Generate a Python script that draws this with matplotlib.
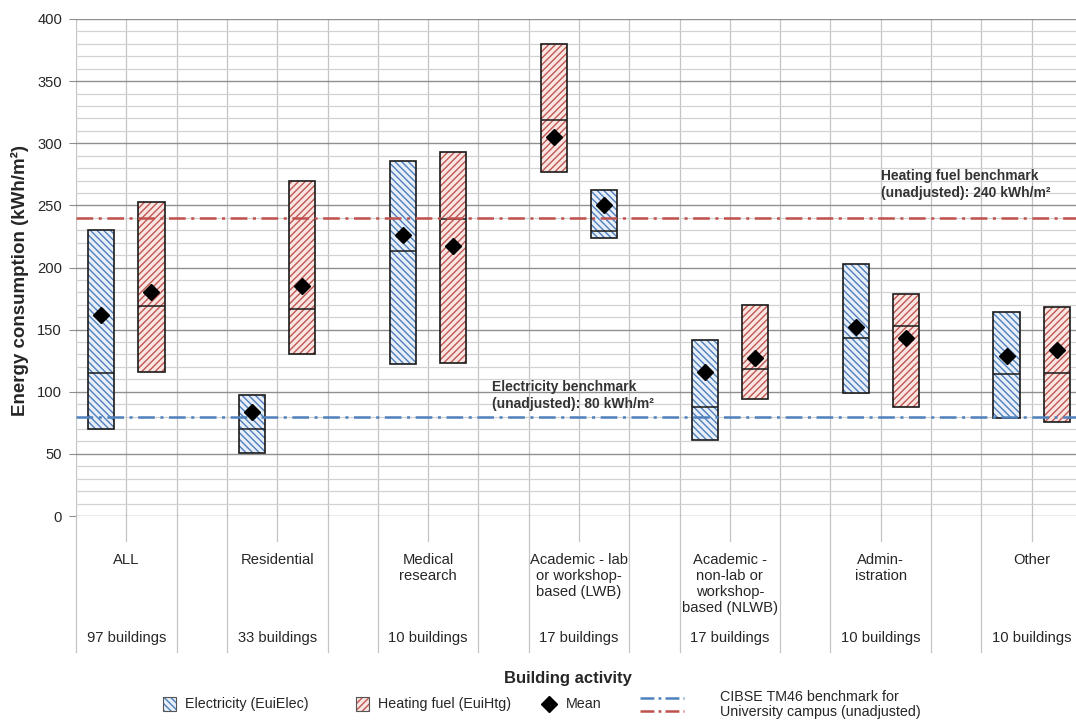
import numpy as np
import matplotlib
matplotlib.use("Agg")
import matplotlib.pyplot as plt
from matplotlib.patches import Rectangle
from matplotlib.lines import Line2D

plt.rcParams["font.family"] = ["Liberation Sans", "DejaVu Sans"]
plt.rcParams["lines.scale_dashes"] = False
plt.rcParams["hatch.linewidth"] = 1.0

# ---- data -------------------------------------------------------------
categories = ["ALL", "Residential", "Medical\nresearch",
              "Academic - lab\nor workshop-\nbased (LWB)",
              "Academic -\nnon-lab or\nworkshop-\nbased (NLWB)",
              "Admin-\nistration", "Other"]
building_counts = ["97 buildings", "33 buildings", "10 buildings", "17 buildings",
                   "17 buildings", "10 buildings", "10 buildings"]

# electricity EUI: low / high of the box, median, mean (kWh/m2)
elec_low = [70, 51, 122, 224, 61, 99, 79]
elec_high = [230, 97, 286, 262, 142, 203, 164]
elec_median = [115, 70, 213, 229, 88, 143, 114]
elec_mean = [162, 84, 226, 250, 116, 152, 129]

# heating fuel EUI
heat_low = [116, 130, 123, 277, 94, 88, 76]
heat_high = [253, 270, 293, 380, 170, 179, 168]
heat_median = [169, 167, 239, 319, 118, 153, 115]
heat_mean = [180, 185, 217, 305, 127, 143, 134]

# heating box drawn before the electricity box in this group
heating_first = [False, False, False, True, False, False, False]

elec_benchmark = 80
heat_benchmark = 240

# ---- styling ----------------------------------------------------------
ELEC_FILL, ELEC_HATCH = "#e8eff8", "#4f7fbb"
HEAT_FILL, HEAT_HATCH = "#f9e6e4", "#c0574f"
ELEC_PAT, HEAT_PAT = "\\" * 5, "/" * 5
BLUE_LINE, RED_LINE = "#4f81bd", "#c0504d"
TEXT = "#262626"
W, H = 1076, 721

fig = plt.figure(figsize=(W / 100, H / 100), dpi=100)
ax = fig.add_axes([76 / W, 1 - 516 / H, (W - 76) / W, 497 / H])

slot_w = 50.3
x_max = -0.5 + (W - 76) / slot_w

for s in ax.spines.values():
    s.set_visible(False)

# grid
ax.set_axisbelow(True)
ax.set_yticks(np.arange(0, 401, 50))
ax.set_yticks(np.arange(0, 401, 10), minor=True)
ax.set_xticks([])
ax.set_xticks(np.arange(-0.5, x_max, 1), minor=True)
ax.grid(axis="y", which="major", color="#8f8f8f", lw=1.0)
ax.grid(axis="y", which="minor", color="#d2d2d2", lw=0.9)
ax.grid(axis="x", which="minor", color="#c4c4c4", lw=0.9)
ax.tick_params(axis="y", which="major", length=5, color="#8f8f8f",
               labelsize=10.6, labelcolor=TEXT, pad=5)
ax.tick_params(axis="y", which="minor", length=0)
ax.tick_params(axis="x", which="minor", length=0)

bw = 0.52
n = len(categories)
for i in range(n):
    base = 3 * i
    ex, hx = (base + 1, base) if heating_first[i] else (base, base + 1)
    for x, lo, hi, med, fill, hcol, hatch in [
        (ex, elec_low[i], elec_high[i], elec_median[i], ELEC_FILL, ELEC_HATCH, ELEC_PAT),
        (hx, heat_low[i], heat_high[i], heat_median[i], HEAT_FILL, HEAT_HATCH, HEAT_PAT),
    ]:
        ax.bar(x, hi - lo, bottom=lo, width=bw, facecolor=fill, edgecolor=hcol,
               hatch=hatch, linewidth=0, zorder=2)
        ax.bar(x, hi - lo, bottom=lo, width=bw, fill=False, edgecolor="#1a1a1a",
               linewidth=1.2, zorder=3)
        ax.hlines(med, x - bw / 2, x + bw / 2, color="#1a1a1a", lw=1.1, zorder=3)
    ax.plot([ex], [elec_mean[i]], marker="D", color="black", ms=8.5, ls="none", zorder=6)
    ax.plot([hx], [heat_mean[i]], marker="D", color="black", ms=8.5, ls="none", zorder=6)

# benchmarks
dash = (12, 4, 2.2, 4)
ax.axhline(heat_benchmark, color=RED_LINE, lw=1.8, dashes=dash, zorder=4)
ax.axhline(elec_benchmark, color=BLUE_LINE, lw=1.8, dashes=dash, zorder=4)

ax.set_xlim(-0.5, x_max)
ax.set_ylim(0, 400)

ax.text(15.51, 267, "Heating fuel benchmark\n(unadjusted): 240 kWh/m²",
        fontsize=10, fontweight="bold", color="#333333", ha="left", va="center",
        linespacing=1.25, zorder=5)
ax.text(7.77, 97, "Electricity benchmark\n(unadjusted): 80 kWh/m²",
        fontsize=10, fontweight="bold", color="#333333", ha="left", va="center",
        linespacing=1.25, zorder=5)

# category axis below the plot
xt = ax.get_xaxis_transform()
def ay(py):
    return (516 - py) / 497

centres = [3 * i + 0.5 for i in range(n)]
for b in np.arange(-0.5, x_max, 1):
    short = any(abs(b - c) < 1e-6 for c in centres)
    ax.plot([b, b], [0, ay(541 if short else 652)], transform=xt, color="#c4c4c4",
            lw=0.9, clip_on=False)

for c, lab, cnt in zip(centres, categories, building_counts):
    ax.text(c, ay(553), lab, transform=xt, ha="center", va="top", fontsize=10.6,
            color=TEXT, linespacing=1.18)
    ax.text(c, ay(638), cnt, transform=xt, ha="center", va="center", fontsize=10.6,
            color=TEXT)

# axis titles
fig.text(20 / W, 1 - 280 / H, "Energy consumption (kWh/m²)", rotation=90,
         ha="center", va="center", fontsize=13.5, fontweight="bold", color=TEXT)
fig.text(568 / W, 1 - 679 / H, "Building activity", ha="center", va="center",
         fontsize=12, fontweight="bold", color=TEXT)

# legend
def fx(px):
    return px / W
def fy(py):
    return 1 - py / H

for px, fill, hcol, hatch, label in [
    (163, ELEC_FILL, ELEC_HATCH, ELEC_PAT, "Electricity (EuiElec)"),
    (356, HEAT_FILL, HEAT_HATCH, HEAT_PAT, "Heating fuel (EuiHtg)"),
]:
    fig.add_artist(Rectangle((fx(px), fy(711)), 13 / W, 14 / H, transform=fig.transFigure,
                             facecolor=fill, edgecolor=hcol, hatch=hatch, lw=0))
    fig.add_artist(Rectangle((fx(px), fy(711)), 13 / W, 14 / H, transform=fig.transFigure,
                             fill=False, edgecolor="#555555", lw=0.8))
    fig.text(fx(px + 22), fy(704), label, ha="left", va="center", fontsize=10.3, color=TEXT)

fig.add_artist(Line2D([fx(549)], [fy(704)], marker="D", color="black", ms=8,
                      transform=fig.transFigure))
fig.text(fx(566), fy(704), "Mean", ha="left", va="center", fontsize=10.3, color=TEXT)

fig.add_artist(Line2D([fx(640), fx(684)], [fy(698), fy(698)], color=BLUE_LINE, lw=1.8,
                      dashes=(10, 3, 2, 3), transform=fig.transFigure))
fig.add_artist(Line2D([fx(640), fx(684)], [fy(711), fy(711)], color=RED_LINE, lw=1.8,
                      dashes=(10, 3, 2, 3), transform=fig.transFigure))
fig.text(fx(720), fy(697), "CIBSE TM46 benchmark for", ha="left", va="center",
         fontsize=10.3, color=TEXT)
fig.text(fx(720), fy(712), "University campus (unadjusted)", ha="left", va="center",
         fontsize=10.3, color=TEXT)

fig.savefig("out.png", dpi=100, facecolor="white")
